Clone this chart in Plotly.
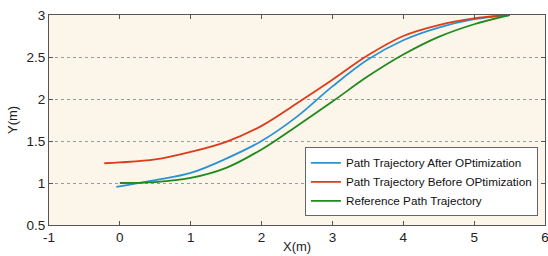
import plotly.graph_objects as go

# Path Trajectory After OPtimization (blue)
after_x = [-0.05, 0.5, 1.0, 1.5, 2.0, 2.5, 3.0, 3.5, 4.0, 4.5, 5.0, 5.5]
after_y = [0.955, 1.035, 1.12, 1.29, 1.50, 1.79, 2.15, 2.47, 2.70, 2.85, 2.95, 3.0]

# Path Trajectory Before OPtimization (red)
before_x = [-0.22, 0.0, 0.5, 1.0, 1.5, 2.0, 2.5, 3.0, 3.5, 4.0, 4.5, 5.0, 5.5]
before_y = [1.235, 1.245, 1.28, 1.37, 1.49, 1.68, 1.95, 2.23, 2.52, 2.75, 2.88, 2.96, 3.0]

# Reference Path Trajectory (green)
ref_x = [0.0, 0.5, 1.0, 1.5, 2.0, 2.5, 3.0, 3.5, 4.0, 4.5, 5.0, 5.5]
ref_y = [1.0, 1.01, 1.06, 1.18, 1.40, 1.68, 1.97, 2.27, 2.53, 2.74, 2.89, 3.0]

x_ticks = [-1, 0, 1, 2, 3, 4, 5, 6]
y_ticks = [0.5, 1, 1.5, 2, 2.5, 3]
y_tick_text = ["0.5", "1", "1.5", "2", "2.5", "3"]

series = [
    ("Path Trajectory After OPtimization", after_x, after_y, "#2b93d4"),
    ("Path Trajectory Before OPtimization", before_x, before_y, "#dc3b1c"),
    ("Reference Path Trajectory", ref_x, ref_y, "#1f8a1f"),
]

fig = go.Figure()
for name, xs, ys, col in series:
    fig.add_trace(go.Scatter(x=xs, y=ys, mode="lines", name=name,
                             line=dict(color=col, width=1.8, shape="spline", smoothing=1.0)))

font_family = "Liberation Sans, Arial, sans-serif"
fig.update_layout(
    width=548, height=256,
    margin=dict(l=49, r=3, t=15, b=31),
    paper_bgcolor="white",
    plot_bgcolor="#fcf5e9",
    font=dict(family=font_family, size=13.5, color="#222"),
    showlegend=True,
    legend=dict(x=0.516, y=0.37, xanchor="left", yanchor="top",
                bgcolor="white", bordercolor="#666", borderwidth=1,
                font=dict(size=11.7, color="#111"), itemwidth=30,
                tracegroupgap=0),
    annotations=[
        dict(text="X(m)", x=0.5, y=-0.1, xref="paper", yref="paper",
             xanchor="center", yanchor="middle", showarrow=False,
             font=dict(size=13, color="#222")),
        dict(text="Y(m)", x=-0.0746, y=0.5, xref="paper", yref="paper",
             xanchor="center", yanchor="middle", showarrow=False, textangle=-90,
             font=dict(size=13, color="#222")),
    ],
)
fig.update_xaxes(range=[-1, 6], tickvals=x_ticks, ticktext=[str(v) for v in x_ticks],
                 showgrid=False, zeroline=False, showline=True, linecolor="#555", linewidth=1,
                 mirror="ticks", ticks="inside", ticklen=4, tickcolor="#555",
                 automargin=False, ticklabeloverflow="allow")
fig.update_yaxes(range=[0.5, 3], tickvals=y_ticks, ticktext=y_tick_text,
                 showgrid=True, gridcolor="#999", griddash="dot", gridwidth=1,
                 zeroline=False, showline=True, linecolor="#555", linewidth=1,
                 mirror="ticks", ticks="inside", ticklen=4, tickcolor="#555",
                 automargin=False, ticklabeloverflow="allow")

fig.write_html("out.html", config={"displayModeBar": False},
               post_script="document.body.style.margin='0';")
